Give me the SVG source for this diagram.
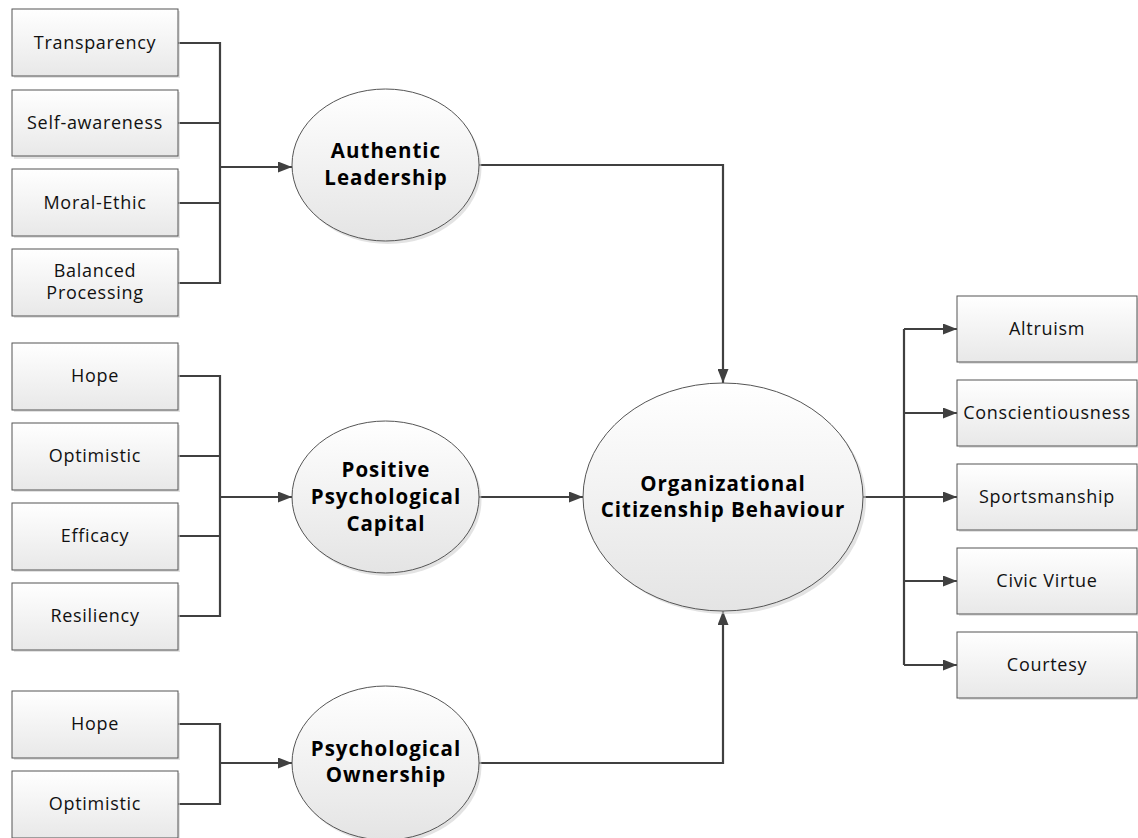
<svg xmlns="http://www.w3.org/2000/svg" width="1138" height="838" viewBox="0 0 1138 838">
<defs>
<linearGradient id="gb" x1="0" y1="0" x2="0" y2="1"><stop offset="0" stop-color="#ffffff"/><stop offset="1" stop-color="#e8e8e8"/></linearGradient>
<linearGradient id="ge" x1="0" y1="0" x2="0" y2="1"><stop offset="0" stop-color="#ffffff"/><stop offset="1" stop-color="#e4e4e4"/></linearGradient>
<marker id="ar" viewBox="0 0 14 11" refX="14" refY="5.5" markerWidth="14" markerHeight="11" markerUnits="userSpaceOnUse" orient="auto"><path d="M0,0 L14,5.5 L0,11 z" fill="#404040"/></marker>
<style>
.bx{fill:url(#gb);stroke:#555;stroke-width:1}
.sh{fill:#d0d0d0;opacity:0.6}
.el{fill:url(#ge);stroke:#555;stroke-width:1}
.t{font-family:"Open Sans","Liberation Sans",sans-serif;font-size:18px;fill:#111;text-anchor:middle;letter-spacing:0.7px}
.b{font-family:"Open Sans","Liberation Sans",sans-serif;font-size:20.5px;font-weight:bold;fill:#000;text-anchor:middle;letter-spacing:1px}
.c{fill:none;stroke:#404040;stroke-width:2.2}
.a{fill:none;stroke:#404040;stroke-width:2.2;marker-end:url(#ar)}
</style>
</defs>
<rect width="1138" height="838" fill="#fff"/>

<g id="connectors">
<path class="c" d="M178,43 H220 V283 H178 M178,123 H220 M178,203 H220"/>
<path class="a" d="M220,167 H292"/>
<path class="c" d="M178,376 H220 V616 H178 M178,456 H220 M178,536 H220"/>
<path class="a" d="M220,497 H292"/>
<path class="c" d="M178,724 H220 V804 H178"/>
<path class="a" d="M220,763 H292"/>
<path class="a" d="M479,165 H723 V383"/>
<path class="a" d="M479,497 H583"/>
<path class="a" d="M479,763 H723 V611"/>
<path class="c" d="M863,497 H904 M904,329 V665"/>
<path class="a" d="M904,329 H957"/>
<path class="a" d="M904,413 H957"/>
<path class="a" d="M904,497 H957"/>
<path class="a" d="M904,581 H957"/>
<path class="a" d="M904,665 H957"/>
</g>

<g id="n-transparency"><rect class="sh" x="14" y="11" width="166" height="67"/><rect class="bx" x="12" y="9" width="166" height="67"/><text class="t" x="95" y="49">Transparency</text></g>
<g id="n-selfawareness"><rect class="sh" x="14" y="92" width="166" height="67"/><rect class="bx" x="12" y="90" width="166" height="66"/><text class="t" x="95" y="129">Self-awareness</text></g>
<g id="n-moralethic"><rect class="sh" x="14" y="171" width="166" height="67"/><rect class="bx" x="12" y="169" width="166" height="67"/><text class="t" x="95" y="209">Moral-Ethic</text></g>
<g id="n-balanced"><rect class="sh" x="14" y="251" width="166" height="67"/><rect class="bx" x="12" y="249" width="166" height="67"/><text class="t" x="95" y="277">Balanced</text><text class="t" x="95" y="299">Processing</text></g>

<g id="n-hope1"><rect class="sh" x="14" y="345" width="166" height="67"/><rect class="bx" x="12" y="343" width="166" height="67"/><text class="t" x="95" y="382">Hope</text></g>
<g id="n-optimistic1"><rect class="sh" x="14" y="425" width="166" height="67"/><rect class="bx" x="12" y="423" width="166" height="67"/><text class="t" x="95" y="462">Optimistic</text></g>
<g id="n-efficacy"><rect class="sh" x="14" y="505" width="166" height="67"/><rect class="bx" x="12" y="503" width="166" height="67"/><text class="t" x="95" y="542">Efficacy</text></g>
<g id="n-resiliency"><rect class="sh" x="14" y="585" width="166" height="67"/><rect class="bx" x="12" y="583" width="166" height="67"/><text class="t" x="95" y="622">Resiliency</text></g>

<g id="n-hope2"><rect class="sh" x="14" y="693" width="166" height="67"/><rect class="bx" x="12" y="691" width="166" height="67"/><text class="t" x="95" y="730">Hope</text></g>
<g id="n-optimistic2"><rect class="sh" x="14" y="773" width="166" height="67"/><rect class="bx" x="12" y="771" width="166" height="67"/><text class="t" x="95" y="810">Optimistic</text></g>

<g id="n-authentic"><ellipse class="sh" cx="388" cy="168" rx="93.5" ry="76"/><ellipse class="el" cx="385.5" cy="165" rx="93.5" ry="76"/><text class="b" x="386" y="158">Authentic</text><text class="b" x="386" y="185">Leadership</text></g>
<g id="n-ppc"><ellipse class="sh" cx="388" cy="500" rx="93.5" ry="76"/><ellipse class="el" cx="385.5" cy="497" rx="93.5" ry="76"/><text class="b" x="386" y="477">Positive</text><text class="b" x="386" y="504">Psychological</text><text class="b" x="386" y="531">Capital</text></g>
<g id="n-po"><ellipse class="sh" cx="388" cy="766" rx="93.5" ry="77"/><ellipse class="el" cx="385.5" cy="763" rx="93.5" ry="77"/><text class="b" x="386" y="756">Psychological</text><text class="b" x="386" y="782">Ownership</text></g>

<g id="n-ocb"><ellipse class="sh" cx="726" cy="500" rx="140" ry="114"/><ellipse class="el" cx="723" cy="497" rx="140" ry="114"/><text class="b" x="723" y="491">Organizational</text><text class="b" x="723" y="517">Citizenship Behaviour</text></g>

<g id="n-altruism"><rect class="sh" x="959" y="298" width="180" height="66"/><rect class="bx" x="957" y="296" width="180" height="66"/><text class="t" x="1047" y="335">Altruism</text></g>
<g id="n-conscientiousness"><rect class="sh" x="959" y="382" width="180" height="66"/><rect class="bx" x="957" y="380" width="180" height="66"/><text class="t" x="1047" y="419">Conscientiousness</text></g>
<g id="n-sportsmanship"><rect class="sh" x="959" y="466" width="180" height="66"/><rect class="bx" x="957" y="464" width="180" height="66"/><text class="t" x="1047" y="503">Sportsmanship</text></g>
<g id="n-civicvirtue"><rect class="sh" x="959" y="550" width="180" height="66"/><rect class="bx" x="957" y="548" width="180" height="66"/><text class="t" x="1047" y="587">Civic Virtue</text></g>
<g id="n-courtesy"><rect class="sh" x="959" y="634" width="180" height="66"/><rect class="bx" x="957" y="632" width="180" height="66"/><text class="t" x="1047" y="671">Courtesy</text></g>
</svg>
